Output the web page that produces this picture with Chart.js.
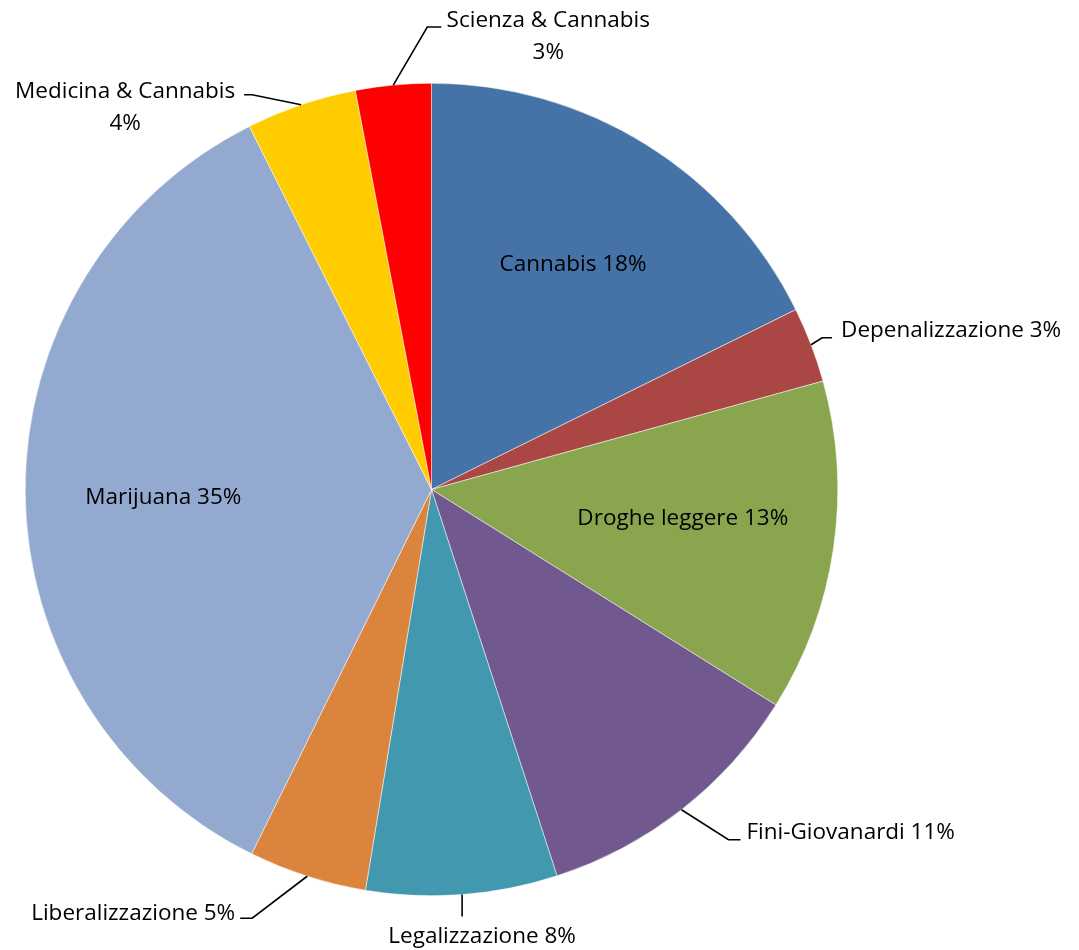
<!DOCTYPE html>
<html>
<head>
<meta charset="utf-8">
<title>Grafico a torta</title>
<script src="https://cdn.jsdelivr.net/npm/chart.js@4/dist/chart.umd.min.js"></script>
<style>
    body { margin: 0; background: #fff; }
    #contenitore { width: 1079px; height: 950px; }
</style>
</head>
<body>
<div id="contenitore">
    <canvas id="myPieChart" width="1079" height="950"></canvas>
</div>
<script>
// Dati del grafico
var categorie = ['Cannabis', 'Depenalizzazione', 'Droghe leggere', 'Fini-Giovanardi', 'Legalizzazione',
    'Liberalizzazione', 'Marijuana', 'Medicina & Cannabis', 'Scienza & Cannabis'];
var valori = [17.7, 3.0, 13.2, 11.1, 7.6, 4.7, 35.3, 4.4, 3.0];
var colori = ['#4572A7', '#AA4643', '#89A54E', '#71588F', '#4198AF',
    '#DB843D', '#93A9CF', '#FFCC00', '#FF0000'];

// Posizione delle etichette: interne (spostamento dal punto a 0.66 del raggio)
// oppure esterne con linea di richiamo (gomito e coda partono dal bordo della fetta)
var etichette = [
    { tipo: 'dentro', sposta: [0, 1] },
    { tipo: 'fuori', gomito: [11, -7], coda: 10, testo: [9, -9], allinea: 'left' },
    { tipo: 'dentro', sposta: [-14, -12] },
    { tipo: 'fuori', gomito: [47, 30], coda: 12, testo: [6, -9], allinea: 'left' },
    { tipo: 'fuori', gomito: [0, 22], coda: 0, testo: [20, 18], allinea: 'center' },
    { tipo: 'fuori', gomito: [-55, 42], coda: -12, testo: [-5, -7], allinea: 'right' },
    { tipo: 'dentro', sposta: [0, 5] },
    { tipo: 'fuori', gomito: [-49, -10], coda: -8, testo: [-119, -5], allinea: 'center', dueRighe: true },
    { tipo: 'fuori', gomito: [34, -58], coda: 14, testo: [107, -8], allinea: 'center', dueRighe: true }
];

var totale = valori.reduce(function(a, b) { return a + b; }, 0);

function percentuale(i) {
    return Math.round(valori[i] / totale * 100) + '%';
}

// Plugin che disegna le etichette e le linee di richiamo
var pluginEtichette = {
    id: 'etichetteTorta',
    afterDatasetsDraw: function(chart) {
        var ctx = chart.ctx;
        var archi = chart.getDatasetMeta(0).data;
        var alza = 2; // il testo va un po' piu' in basso del centro geometrico
        ctx.save();
        ctx.font = '22.5px "Open Sans"';
        ctx.fillStyle = '#000';
        ctx.strokeStyle = '#000';
        ctx.lineWidth = 1.6;
        ctx.textBaseline = 'middle';

        for (var i = 0; i < archi.length; i++) {
            var arco = archi[i];
            var conf = etichette[i];
            var medio = (arco.startAngle + arco.endAngle) / 2;
            var r = arco.outerRadius;
            var testo = categorie[i] + ' ' + percentuale(i);

            if (conf.tipo === 'dentro') {
                var xi = arco.x + Math.cos(medio) * r * 0.66 + conf.sposta[0];
                var yi = arco.y + Math.sin(medio) * r * 0.66 + conf.sposta[1] + alza;
                ctx.textAlign = 'center';
                ctx.fillText(testo, xi, yi);
                continue;
            }

            var bx = arco.x + Math.cos(medio) * r;
            var by = arco.y + Math.sin(medio) * r;
            var gx = bx + conf.gomito[0];
            var gy = by + conf.gomito[1];
            var cx = gx + conf.coda;

            ctx.beginPath();
            ctx.moveTo(bx, by);
            ctx.lineTo(gx, gy);
            ctx.lineTo(cx, gy);
            ctx.stroke();

            var tx = cx + conf.testo[0];
            var ty = gy + conf.testo[1] + alza;
            ctx.textAlign = conf.allinea;
            if (conf.dueRighe) {
                ctx.fillText(categorie[i], tx, ty);
                ctx.fillText(percentuale(i), tx, ty + 32);
            } else {
                ctx.fillText(testo, tx, ty);
            }
        }
        ctx.restore();
    }
};

function creaGraficoTorta() {
    var ctx = document.getElementById('myPieChart').getContext('2d');

    var myPieChart = new Chart(ctx, {
        type: 'pie',
        data: {
            labels: categorie,
            datasets: [{
                data: valori,
                backgroundColor: colori,
                borderColor: '#ffffff',
                borderWidth: 0.5
            }]
        },
        options: {
            responsive: false,
            animation: false,
            layout: {
                padding: { left: 25, right: 241, top: 83, bottom: 54 }
            },
            plugins: {
                legend: { display: false },
                tooltip: { enabled: false }
            }
        },
        plugins: [pluginEtichette]
    });
}

creaGraficoTorta();
</script>
</body>
</html>
